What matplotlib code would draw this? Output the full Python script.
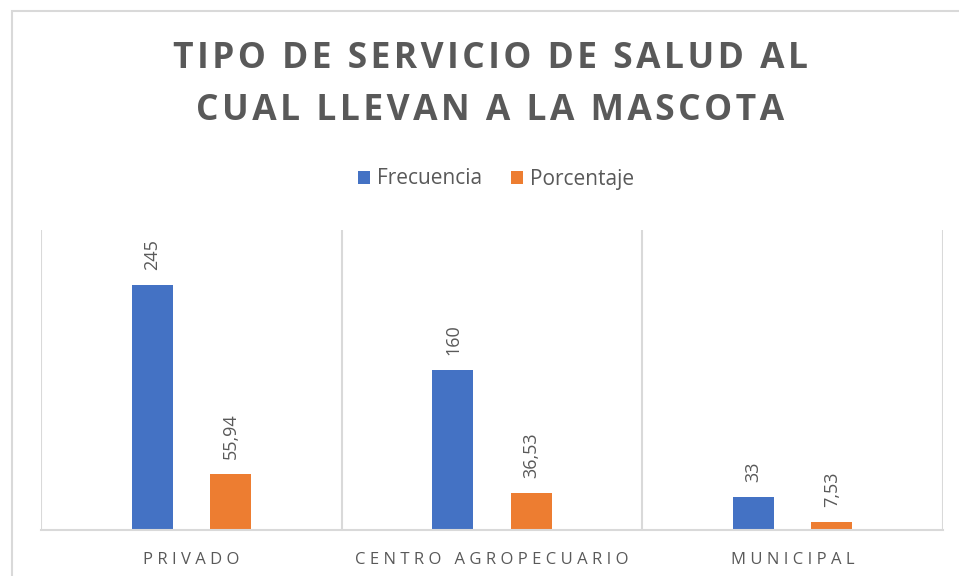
import matplotlib.pyplot as plt
from matplotlib.patches import Rectangle

categorias = ["PRIVADO", "CENTRO AGROPECUARIO", "MUNICIPAL"]
frecuencia = [245, 160, 33]
porcentaje = [55.94, 36.53, 7.53]
etiquetas_frec = ["245", "160", "33"]
etiquetas_porc = ["55,94", "36,53", "7,53"]

AZUL = "#4472C4"
NARANJA = "#ED7D31"
GRIS_TEXTO = "#595959"
GRIS_LINEA = "#D9D9D9"


def espaciar(texto, sep="\u2009"):
    """Simula el espaciado entre letras de Excel"""
    return sep.join(texto)


fig = plt.figure(figsize=(9.59, 5.76), dpi=100)

# borde del gráfico (recortado a la derecha y abajo)
fig.patches.append(Rectangle((12 / 959, -0.05), 1.1, 1.05 - 11 / 576,
                             transform=fig.transFigure, fill=False,
                             edgecolor=GRIS_LINEA, linewidth=1.5))

ax = fig.add_axes([41 / 959, 1 - 530 / 576, 902 / 959, 300 / 576])

x = list(range(len(categorias)))
ancho = 0.136
desp = 0.13
barras_f = ax.bar([i - desp for i in x], frecuencia, ancho, color=AZUL, label="Frecuencia")
barras_p = ax.bar([i + desp for i in x], porcentaje, ancho, color=NARANJA, label="Porcentaje")

for barras, etiquetas in ((barras_f, etiquetas_frec), (barras_p, etiquetas_porc)):
    for b, et in zip(barras, etiquetas):
        ax.annotate(et, (b.get_x() + b.get_width() / 2, b.get_height()),
                    xytext=(0, 11), textcoords="offset points",
                    rotation=90, ha="center", va="bottom",
                    fontsize=13, color=GRIS_TEXTO, family="Open Sans")

ax.set_xlim(-0.5, len(categorias) - 0.5)
ax.set_ylim(0, 300)

for xb in [i - 0.5 for i in range(len(categorias) + 1)]:
    ax.axvline(xb, color=GRIS_LINEA, linewidth=1.5, zorder=0)

for s in ["top", "left", "right"]:
    ax.spines[s].set_visible(False)
ax.spines["bottom"].set_color(GRIS_LINEA)
ax.spines["bottom"].set_linewidth(1.5)

ax.set_yticks([])
ax.set_xticks(x)
ax.set_xticklabels([espaciar(c, "\u2009\u200a") for c in categorias],
                   fontsize=12, color=GRIS_TEXTO, family="Open Sans")
ax.tick_params(axis="x", length=0, pad=16)

fig.text(0.511, 1 - 59 / 576, espaciar("TIPO DE SERVICIO DE SALUD AL", "\u200a"),
         ha="center", va="center", fontsize=25.5, fontweight="bold",
         color=GRIS_TEXTO, family="Open Sans")
fig.text(0.511, 1 - 111 / 576, espaciar("CUAL LLEVAN A LA MASCOTA", "\u200a"),
         ha="center", va="center", fontsize=25.5, fontweight="bold",
         color=GRIS_TEXTO, family="Open Sans")

fig.legend(handles=[barras_f, barras_p], loc="center",
           bbox_to_anchor=(0.517, 1 - 179 / 576), ncol=2, frameon=False,
           prop={"family": "Open Sans", "size": 15},
           handlelength=0.6, handleheight=0.6, handletextpad=0.3,
           columnspacing=1.4, labelcolor=GRIS_TEXTO)

fig.savefig("out.png", dpi=100)
